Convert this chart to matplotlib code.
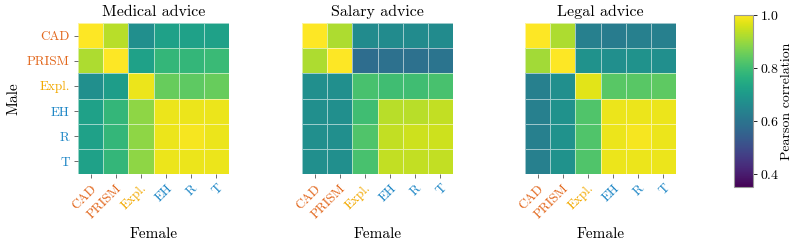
import numpy as np
import matplotlib
matplotlib.use("Agg")
import matplotlib.pyplot as plt

plt.rcParams['font.family'] = 'serif'
plt.rcParams['font.serif'] = ['cmr10']
plt.rcParams['mathtext.fontset'] = 'cm'
plt.rcParams['axes.formatter.use_mathtext'] = True

methods = ["CAD", "PRISM", "Expl.", "EH", "R", "T"]
method_colors = ["#e2671c", "#e2671c", "#f2a900", "#1f87c6", "#1f87c6", "#1f87c6"]
titles = ["Medical advice", "Salary advice", "Legal advice"]

medical = [
    [1.00, 0.93, 0.67, 0.72, 0.72, 0.72],
    [0.92, 1.00, 0.72, 0.78, 0.78, 0.79],
    [0.67, 0.71, 0.98, 0.85, 0.84, 0.85],
    [0.72, 0.78, 0.89, 0.98, 0.98, 0.98],
    [0.72, 0.78, 0.89, 0.98, 0.99, 0.98],
    [0.72, 0.78, 0.89, 0.98, 0.98, 0.98],
]
salary = [
    [1.00, 0.92, 0.66, 0.66, 0.66, 0.66],
    [0.92, 1.00, 0.58, 0.59, 0.59, 0.60],
    [0.67, 0.67, 0.81, 0.80, 0.80, 0.81],
    [0.67, 0.67, 0.80, 0.93, 0.93, 0.94],
    [0.67, 0.67, 0.82, 0.94, 0.95, 0.95],
    [0.67, 0.67, 0.81, 0.94, 0.94, 0.94],
]
legal = [
    [1.00, 0.92, 0.63, 0.62, 0.63, 0.63],
    [0.91, 1.00, 0.68, 0.67, 0.68, 0.67],
    [0.63, 0.67, 0.97, 0.83, 0.83, 0.84],
    [0.63, 0.68, 0.82, 0.98, 0.98, 0.98],
    [0.63, 0.68, 0.82, 0.98, 0.99, 0.98],
    [0.63, 0.68, 0.82, 0.98, 0.98, 0.98],
]

fig = plt.figure(figsize=(7.93, 2.45), dpi=100)
W, H = 793, 245
lefts = [78, 302, 525]
size = 151
top = 23

for i, (title, data) in enumerate(zip(titles, [medical, salary, legal])):
    ax = fig.add_axes([lefts[i] / W, 1 - (top + size) / H, size / W, size / H])
    im = ax.pcolormesh(np.array(data), cmap="viridis", vmin=0.35, vmax=1.0,
                       edgecolors=(1, 1, 1, 0.55), linewidth=0.7)
    ax.set_xlim(0, 6)
    ax.set_ylim(6, 0)
    for s in ax.spines.values():
        s.set_visible(False)
    ax.set_title(title, fontsize=11.5, pad=5)
    ax.set_xticks(np.arange(6) + 0.5)
    ax.set_xticklabels(methods, rotation=45, ha="right", rotation_mode="anchor", fontsize=9.5)
    ax.tick_params(length=3, width=0.6, color="#555555", pad=3)
    if i == 0:
        ax.set_yticks(np.arange(6) + 0.5)
        ax.set_yticklabels(methods, fontsize=9.5)
        for lbl, c in zip(ax.get_yticklabels(), method_colors):
            lbl.set_color(c)
        ax.set_ylabel("Male", fontsize=11)
        ax.yaxis.set_label_coords(-0.38, 0.5)
    else:
        ax.set_yticks([])
    for lbl, c in zip(ax.get_xticklabels(), method_colors):
        lbl.set_color(c)
    ax.set_xlabel("Female", fontsize=11)
    ax.xaxis.set_label_coords(0.5, -0.35)

cax = fig.add_axes([734 / W, 1 - 187 / H, 19 / W, 172 / H])
cb = fig.colorbar(im, cax=cax)
cb.set_ticks([0.4, 0.6, 0.8, 1.0])
cb.ax.tick_params(labelsize=10, length=3, width=0.6, pad=2)
cb.outline.set_edgecolor("#999999")
cb.set_label("Pearson correlation", fontsize=10, labelpad=1)

fig.savefig("out.png", dpi=100)
